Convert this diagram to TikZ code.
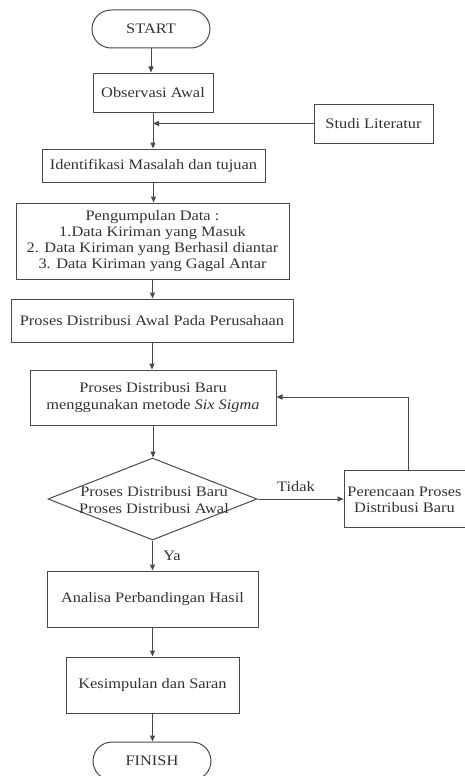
\documentclass[tikz,border=0pt]{standalone}
\usepackage{fontspec}
\setmainfont{Liberation Serif}[FakeStretch=1.13]
\usetikzlibrary{shapes.geometric,arrows.meta}
\definecolor{ln}{HTML}{4A4A4A}
\definecolor{txt}{HTML}{333333}
\begin{document}
\begin{tikzpicture}[x=1pt,y=-1pt,
  every node/.style={text=txt, font=\fontsize{14.5}{16.3}\selectfont},
  box/.style={draw=ln, line width=1pt, rectangle, inner sep=0pt, align=center},
  term/.style={draw=ln, line width=1pt, rectangle, rounded corners=19pt, inner sep=0pt},
  dec/.style={draw=ln, line width=1pt, diamond, inner sep=0pt},
  arr/.style={draw=ln, line width=1pt, -{Triangle[length=6pt,width=5pt]}},
  lbl/.style={inner sep=0pt, align=center}
]
\useasboundingbox (0,0) rectangle (465,776);
\node[term, minimum width=118pt, minimum height=38pt] (start) at (151,29) {START};
\node[box, minimum width=120pt, minimum height=39pt] (obs) at (153,92.5) {Observasi Awal};
\node[box, minimum width=119pt, minimum height=39pt] (studi) at (373.5,123.5) {Studi Literatur};
\node[box, minimum width=223pt, minimum height=33pt] (ident) at (153.5,165.5) {Identifikasi Masalah dan tujuan};
\node[box, minimum width=273pt, minimum height=76pt] (peng) at (152.5,241) {Pengumpulan Data :\\1.Data Kiriman yang Masuk\\2. Data Kiriman yang Berhasil diantar\\3. Data Kiriman yang Gagal Antar};
\node[box, minimum width=282pt, minimum height=43pt] (awal) at (152,320.5) {Proses Distribusi Awal Pada Perusahaan};
\node[box, minimum width=246pt, minimum height=55pt] (baru) at (153,397.5) {Proses Distribusi Baru\\menggunakan metode \textit{Six Sigma}};
\node[dec, minimum width=209pt, minimum height=82pt] (dec) at (152.5,499) {};
\node[lbl] (dect) at (154,500) {Proses Distribusi Baru\\Proses Distribusi Awal};
\node[box, minimum width=124pt, minimum height=57pt] (per) at (406,498.5) {};
\node[lbl] (pert) at (404.5,500) {Perencaan Proses\\Distribusi Baru};
\node[box, minimum width=211pt, minimum height=56pt] (anal) at (152.5,599) {Analisa Perbandingan Hasil};
\node[box, minimum width=173pt, minimum height=56pt] (kes) at (152.5,685) {Kesimpulan dan Saran};
\node[term, minimum width=118pt, minimum height=38pt] (fin) at (152,761) {FINISH};
\node[lbl] (tidak) at (296,487) {Tidak};
\node[lbl] (ya) at (172,556) {Ya};
\coordinate (fb) at (408,397);

\draw[arr] (start.south) -- (start.south |- obs.north);
\draw[arr] (obs.south) -- (obs.south |- ident.north);
\draw[arr] (studi.west) -- (studi.west -| obs.south);
\draw[arr] (ident.south) -- (ident.south |- peng.north);
\draw[arr] (peng.south) -- (peng.south |- awal.north);
\draw[arr] (awal.south) -- (awal.south |- baru.north);
\draw[arr] (baru.south) -- (baru.south |- dec.north);
\draw[arr] (dec.east) -- (dec.east -| per.west);
\draw[arr] (fb |- per.north) -- (fb) -- (fb -| baru.east);
\draw[arr] (dec.south) -- (dec.south |- anal.north);
\draw[arr] (anal.south) -- (anal.south |- kes.north);
\draw[arr] (kes.south) -- (kes.south |- fin.north);
\end{tikzpicture}
\end{document}
